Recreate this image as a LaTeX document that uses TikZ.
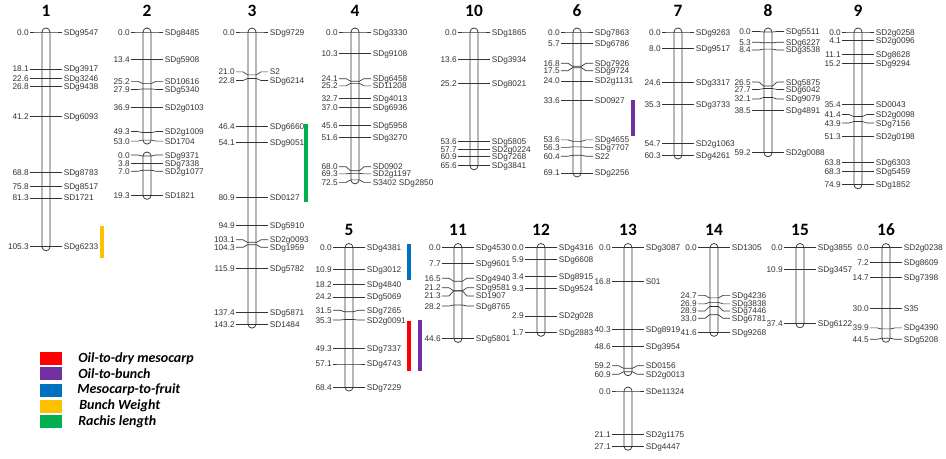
\documentclass[tikz,border=0pt]{standalone}
\usepackage{fontspec}
\setmainfont{Liberation Sans}
\newfontfamily\titlefont{Carlito}
\definecolor{qred}{HTML}{FF0000}
\definecolor{qpurple}{HTML}{7030A0}
\definecolor{qblue}{HTML}{0070C0}
\definecolor{qyellow}{HTML}{FFC000}
\definecolor{qgreen}{HTML}{00B050}
\definecolor{ink}{HTML}{333333}
\newcommand{\cmscale}{2.04}
\newcommand{\chromo}[5]{%
  \pgfmathsetmacro\ybot{#3+\cmscale*#4}
  \draw[chromline] (#2-4,#3-4) rectangle (#2+4,\ybot+4);
  \foreach \c/\n/\m/\d [count=\i] in {#5} {
    \pgfmathsetmacro\yy{#3+\cmscale*\c}
    \pgfmathsetmacro\yl{\yy+\d}
    \draw[tickline] (#2-16,\yl) -- (#2-9,\yl) -- (#2-4.5,\yy) -- (#2+4.5,\yy) -- (#2+9,\yl) -- (#2+16,\yl);
    \node[numlab] (#1n\i) at (#2-17,\yl) {\n};
    \node[mklab] (#1m\i) at (#2+17.5,\yl) {\m};
  }
}
\tikzset{
  chromline/.style={draw=ink, line width=0.55pt, rounded corners=3pt},
  tickline/.style={draw=ink, line width=0.5pt},
  numlab/.style={anchor=east, inner sep=0pt, text height=4.5pt, text depth=0pt, text=ink, font=\fontsize{6.2}{7}\selectfont},
  mklab/.style={anchor=west, inner sep=0pt, text height=4.5pt, text depth=0pt, text=ink, font=\fontsize{6.2}{7}\selectfont},
  ctitle/.style={anchor=base, inner sep=0pt, font=\titlefont\bfseries\fontsize{13}{15}\selectfont},
  qtl/.style={line width=3pt},
  legsq/.style={minimum width=16.5pt, minimum height=9.75pt, inner sep=0pt},
  legtext/.style={anchor=west, inner sep=0pt, font=\titlefont\bfseries\itshape\fontsize{10.5}{12}\selectfont},
}
\begin{document}
\begin{tikzpicture}[x=0.75pt, y=-0.75pt]
\useasboundingbox[fill=white] (0,0) rectangle (946,458);

% titles
\node[ctitle] (t1) at (46,16) {1};
\node[ctitle] (t2) at (147,16) {2};
\node[ctitle] (t3) at (252,16) {3};
\node[ctitle] (t4) at (355,16) {4};
\node[ctitle] (t10) at (474,16) {10};
\node[ctitle] (t6) at (577,16) {6};
\node[ctitle] (t7) at (678,16) {7};
\node[ctitle] (t8) at (768,16) {8};
\node[ctitle] (t9) at (858,16) {9};
\node[ctitle] (t5) at (349,235) {5};
\node[ctitle] (t11) at (458,235) {11};
\node[ctitle] (t12) at (541,235) {12};
\node[ctitle] (t13) at (628,235) {13};
\node[ctitle] (t14) at (714,235) {14};
\node[ctitle] (t15) at (800,235) {15};
\node[ctitle] (t16) at (886,235) {16};

% row 1
\chromo{a}{46}{32}{105.3}{0/0.0/SDg9547/0, 18.1/18.1/SDg3917/0, 22.6/22.6/SDg3246/0, 26.8/26.8/SDg9438/0, 41.2/41.2/SDg6093/0, 68.8/68.8/SDg8783/0, 75.8/75.8/SDg8517/0, 81.3/81.3/SD1721/0, 105.3/105.3/SDg6233/0}
\chromo{b}{147}{32}{53.0}{0/0.0/SDg8485/0, 13.4/13.4/SDg5908/0, 25.2/25.2/SD10616/-2, 27.9/27.9/SDg5340/0.5, 36.9/36.9/SD2g0103/0, 49.3/49.3/SD2g1009/-1, 53.0/53.0/SD1704/1}
\chromo{bb}{147}{156}{19.3}{0/0.0/SDg9371/-1, 3.8/3.8/SDg7338/0, 7.0/7.0/SD2g1077/1, 19.3/19.3/SD1821/0}
\chromo{c}{252}{32}{143.2}{0/0.0/SDg9729/0, 21.0/21.0/S2/-3, 22.8/22.8/SDg6214/2, 46.4/46.4/SDg6660/0, 54.1/54.1/SDg9051/0, 80.9/80.9/SD0127/0, 94.9/94.9/SDg5910/0, 103.1/103.1/SD2g0093/-2.5, 104.3/104.3/SDg1959/2.5, 115.9/115.9/SDg5782/0, 137.4/137.4/SDg5871/0, 143.2/143.2/SD1484/0}
\chromo{d}{355}{32}{72.5}{0/0.0/SDg3330/0, 10.3/10.3/SDg9108/0, 24.1/24.1/SDg6458/-2.5, 25.2/25.2/SD11208/2.5, 32.7/32.7/SDg4013/0, 37.0/37.0/SDg6936/0, 45.6/45.6/SDg5958/0, 51.6/51.6/SDg3270/0, 68.0/68.0/SD0902/-4, 69.3/69.3/SD2g1197/0.5, 72.5/72.5/S3402 SDg2850/2.5}
\chromo{j}{474}{32}{65.6}{0/0.0/SDg1865/0, 13.6/13.6/SDg3934/0, 25.2/25.2/SDg8021/0, 53.6/53.6/SDg5805/0, 57.7/57.7/SD2g0224/0, 60.9/60.9/SDg7268/0, 65.6/65.6/SDg3841/0}
\chromo{f}{577}{32}{69.1}{0/0.0/SDg7863/0, 5.7/5.7/SDg6786/0, 16.8/16.8/SDg7926/-3, 17.5/17.5/SDg9724/3, 24.0/24.0/SD2g1131/0, 33.6/33.6/SD0927/0, 53.6/53.6/SDg4655/-1.5, 56.3/56.3/SDg7707/0.5, 60.4/60.4/S22/1, 69.1/69.1/SDg2256/0}
\chromo{g}{678}{32}{60.3}{0/0.0/SDg9263/0, 8.0/8.0/SDg9517/0, 24.6/24.6/SDg3317/0, 35.3/35.3/SDg3733/0, 54.7/54.7/SD2g1063/0, 60.3/60.3/SDg4261/0}
\chromo{h}{768}{32}{59.2}{0/0.0/SDg5511/-0.5, 5.3/5.3/SDg6227/-0.5, 8.4/8.4/SDg3538/0.8, 26.5/26.5/SDg5875/-4, 27.7/27.7/SDg6042/1, 32.1/32.1/SDg9079/1.5, 38.5/38.5/SDg4891/0, 59.2/59.2/SD2g0088/0}
\chromo{i}{858}{32}{74.9}{0/0.0/SD2g0258/0, 4.1/4.1/SD2g0096/0, 11.1/11.1/SDg8628/0, 15.2/15.2/SDg9294/0, 35.4/35.4/SD0043/0, 41.4/41.4/SD2g0098/-2, 43.9/43.9/SDg7156/1.5, 51.3/51.3/SD2g0198/0, 63.8/63.8/SDg6303/0, 68.3/68.3/SDg5459/0, 74.9/74.9/SDg1852/0}

% row 2
\chromo{e}{349}{247.5}{68.4}{0/0.0/SDg4381/0, 10.9/10.9/SDg3012/0, 18.2/18.2/SDg4840/0, 24.2/24.2/SDg5069/0, 31.5/31.5/SDg7265/-1.5, 35.3/35.3/SD2g0091/0.5, 49.3/49.3/SDg7337/0, 57.1/57.1/SDg4743/0, 68.4/68.4/SDg7229/0}
\chromo{k}{458}{247.5}{44.6}{0/0.0/SDg4530/0, 7.7/7.7/SDg9601/0, 16.5/16.5/SDg4940/-3, 21.2/21.2/SDg9581/-3, 21.3/21.3/SD1907/5, 28.2/28.2/SDg8765/1, 44.6/44.6/SDg5801/0}
\chromo{l}{541}{247.5}{41.6}{0/0.0/SDg4316/0, 6.0/5.9/SDg6608/0, 14.0/3.4/SDg8915/0, 20.0/9.3/SDg9524/0, 33.5/2.9/SD2g028/0, 41.6/1.7/SDg2883/0}
\chromo{m}{628}{247.5}{60.9}{0/0.0/SDg3087/0, 16.8/16.8/S01/0, 40.3/40.3/SDg8919/0, 48.6/48.6/SDg3954/0, 59.2/59.2/SD0156/-2.5, 60.9/60.9/SD2g0013/2.5}
\chromo{mm}{628}{391}{27.1}{0/0.0/SDe11324/0, 21.1/21.1/SD2g1175/0, 27.1/27.1/SDg4447/0}
\chromo{n}{714}{247.5}{41.6}{0/0.0/SD1305/0, 24.7/24.7/SDg4236/-2.5, 26.9/26.9/SDg3838/1.5, 28.9/28.9/SDg7446/4.5, 33.0/33.0/SDg6781/3.5, 41.6/41.6/SDg9268/0}
\chromo{o}{800}{247.5}{37.4}{0/0.0/SDg3855/0, 10.9/10.9/SDg3457/0, 37.4/37.4/SDg6122/0}
\chromo{p}{886}{247.5}{44.5}{0/0.0/SD2g0238/0, 7.2/7.2/SDg8609/0, 14.7/14.7/SDg7398/0, 30.0/30.0/S35/0, 39.9/39.9/SDg4390/-1, 44.5/44.5/SDg5208/1}

% QTL bars
\draw[qtl, qyellow] (102,226) -- (102,258);
\draw[qtl, qgreen] (306,124) -- (306,202);
\draw[qtl, qpurple] (633,100) -- (633,136);
\draw[qtl, qblue] (409,244) -- (409,280);
\draw[qtl, qred] (409,321) -- (409,371);
\draw[qtl, qpurple] (420,320) -- (420,371);

% legend
\node[legsq, fill=qred] (lq1) at (51,358.3) {};
\node[legsq, fill=qpurple] (lq2) at (51,373.8) {};
\node[legsq, fill=qblue] (lq3) at (51,390) {};
\node[legsq, fill=qyellow] (lq4) at (51,406) {};
\node[legsq, fill=qgreen] (lq5) at (51,421.8) {};
\node[legtext] (lt1) at (78,358.3) {Oil-to-dry mesocarp};
\node[legtext] (lt2) at (78,373.8) {Oil-to-bunch};
\node[legtext] (lt3) at (77,390) {Mesocarp-to-fruit};
\node[legtext] (lt4) at (79,406) {Bunch Weight};
\node[legtext] (lt5) at (78,421.8) {Rachis length};
\end{tikzpicture}
\end{document}
